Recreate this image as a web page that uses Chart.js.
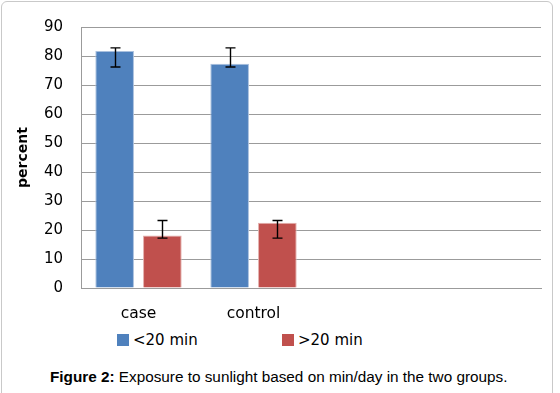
<!DOCTYPE html>
<html>
<head>
<meta charset="utf-8">
<script src="https://cdn.jsdelivr.net/npm/chart.js@4"></script>
<style>
  html, body { margin: 0; padding: 0; background: #fff; }
  body { width: 560px; height: 393px; position: relative; overflow: hidden; }
  #frame { position: absolute; left: 1px; top: 1px; width: 552px; height: 410px;
           border: 1px solid #c9c9c9; border-radius: 6px; box-sizing: border-box; }
  #wrap { position: absolute; left: 0; top: 0; width: 560px; height: 326px; }
  .lg-box { position: absolute; width: 12px; height: 12px; }
  .lg-text { position: absolute; font-family: "DejaVu Sans"; font-size: 15px; line-height: 17.5px;
             color: #000; white-space: nowrap; }
  #caption { position: absolute; left: 50px; top: 368px; font-family: "Liberation Sans", Arial, sans-serif;
             font-size: 15.3px; line-height: 17px; color: #000; white-space: nowrap; }
</style>
</head>
<body>
<div id="frame"></div>
<div id="wrap"><canvas id="c"></canvas></div>
<div id="legend"></div>
<div id="caption"><b>Figure 2:</b> Exposure to sunlight based on min/day in the two groups.</div>
<script>
// ---- data ----
const categories = ['case', 'control', '', ''];
const seriesNames = ['<20 min', '>20 min'];
const under20 = [81.7, 77.3, null, null];
const over20 = [18.1, 22.5, null, null];
const under20ErrLow = [76.2, 76.2, null, null];
const under20ErrHigh = [82.8, 82.8, null, null];
const over20ErrLow = [17.2, 17.2, null, null];
const over20ErrHigh = [23.3, 23.3, null, null];
const yMin = 0, yMax = 90, yStep = 10;
const yTitle = 'percent';

// ---- styles ----
const BLUE = '#4F81BD', RED = '#C0504D';
const GRID = '#9b9b9b';

const errorBars = {
  id: 'errorBars',
  afterDatasetsDraw(chart) {
    const ctx = chart.ctx;
    const ys = chart.scales.y;
    ctx.save();
    ctx.strokeStyle = '#000';
    ctx.lineWidth = 1.4;
    chart.data.datasets.forEach((ds, i) => {
      const meta = chart.getDatasetMeta(i);
      meta.data.forEach((bar, j) => {
        const lo = ds.errLow[j], hi = ds.errHigh[j];
        if (lo == null || hi == null) return;
        const x = Math.round(bar.x) + 0.5;
        const y1 = ys.getPixelForValue(lo), y2 = ys.getPixelForValue(hi);
        const cap = 5;
        ctx.beginPath();
        ctx.moveTo(x, y1); ctx.lineTo(x, y2);
        ctx.moveTo(x - cap, y1); ctx.lineTo(x + cap, y1);
        ctx.moveTo(x - cap, y2); ctx.lineTo(x + cap, y2);
        ctx.stroke();
      });
    });
    ctx.restore();
  }
};

const chart = new Chart(document.getElementById('c'), {
  type: 'bar',
  data: {
    labels: categories,
    datasets: [
      { label: seriesNames[0], data: under20, errLow: under20ErrLow, errHigh: under20ErrHigh,
        backgroundColor: BLUE, borderColor: '#a9c0de', borderWidth: 1,
        barPercentage: 0.81, categoryPercentage: 0.83 },
      { label: seriesNames[1], data: over20, errLow: over20ErrLow, errHigh: over20ErrHigh,
        backgroundColor: RED, borderColor: '#e3aeac', borderWidth: 1,
        barPercentage: 0.81, categoryPercentage: 0.83 }
    ]
  },
  options: {
    responsive: true,
    maintainAspectRatio: false,
    animation: false,
    devicePixelRatio: 1,
    layout: { padding: { top: 27, right: 19, bottom: 0, left: 0 } },
    plugins: { legend: { display: false }, tooltip: { enabled: false } },
    scales: {
      x: {
        grid: { display: false, drawTicks: false },
        border: { display: true, color: GRID, width: 1 },
        ticks: { color: '#000', padding: 17, font: { family: 'DejaVu Sans', size: 15.5 }, maxRotation: 0, autoSkip: false },
        afterFit(s) { s.height = 38; }
      },
      y: {
        min: yMin, max: yMax,
        grid: { color: GRID, lineWidth: 1, drawTicks: false },
        border: { display: true, color: GRID, width: 1 },
        ticks: { stepSize: yStep, color: '#000', padding: 18, font: { family: 'DejaVu Sans', size: 15 } },
        title: { display: true, text: yTitle, color: '#000', padding: { top: 14.6, bottom: 0 },
                 font: { family: 'DejaVu Sans', size: 14, weight: 'bold' } },
        afterFit(s) { s.width = 81; }
      }
    }
  },
  plugins: [errorBars]
});

// HTML legend built from chart's legend items
const legendPos = [{ box: 117, text: 133 }, { box: 282, text: 298 }];
const legendEl = document.getElementById('legend');
const items = chart.options.plugins.legend.labels.generateLabels(chart);
items.forEach((it, k) => {
  const b = document.createElement('div');
  b.className = 'lg-box';
  b.style.left = legendPos[k].box + 'px';
  b.style.top = '334px';
  b.style.background = it.fillStyle;
  const t = document.createElement('div');
  t.className = 'lg-text';
  t.style.left = legendPos[k].text + 'px';
  t.style.top = '332px';
  t.textContent = it.text;
  legendEl.appendChild(b);
  legendEl.appendChild(t);
});
</script>
</body>
</html>
